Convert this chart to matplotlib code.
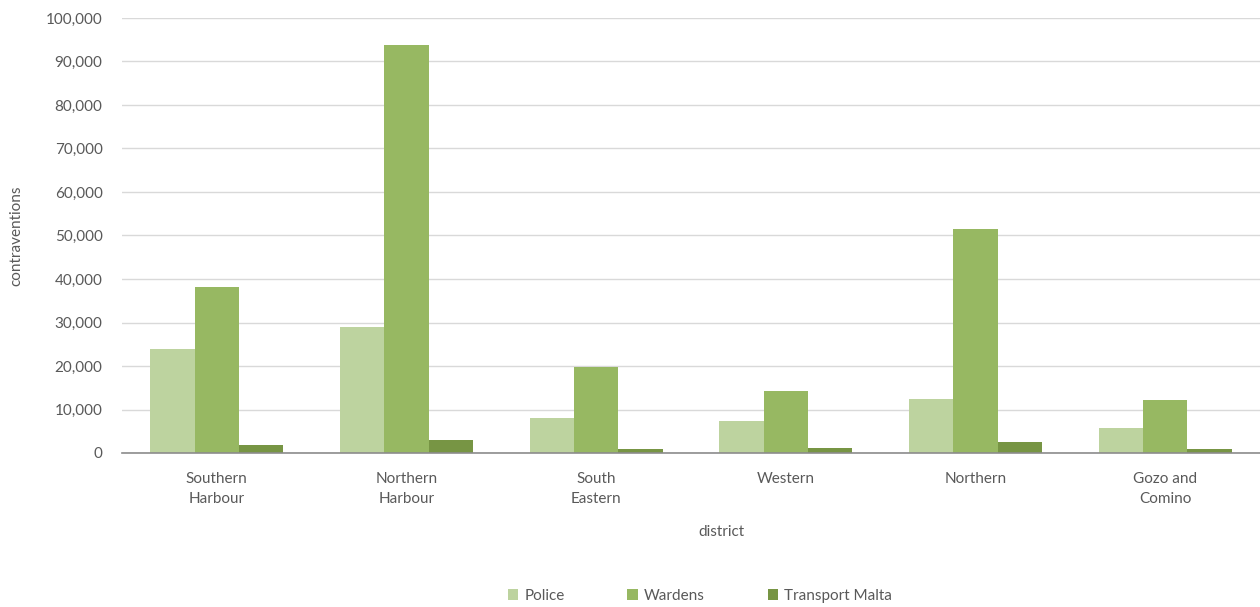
import matplotlib.pyplot as plt
import numpy as np
from matplotlib.ticker import FuncFormatter

# ── Data ──────────────────────────────────────────────────────────────────
districts = ["Southern\nHarbour", "Northern\nHarbour", "South\nEastern",
             "Western", "Northern", "Gozo and\nComino"]
police = [24000, 29000, 8000, 7400, 12400, 5700]
wardens = [38200, 93800, 19800, 14300, 51500, 12250]
transport_malta = [1800, 3000, 900, 1150, 2450, 1000]

# Colours
POLICE = "#BDD39F"
WARDENS = "#97B862"
TM = "#779544"
GRID = "#D9D9D9"
AXIS = "#8C8C8C"
FG = "#595959"

plt.rcParams['font.family'] = ['Lato', 'DejaVu Sans']

fig = plt.figure(figsize=(12.6, 6.07), dpi=100, facecolor="white")
ax = fig.add_axes([122 / 1260, 1 - 453 / 607, 1 - 122 / 1260, (453 - 18) / 607])

x = np.arange(len(districts))
w = 0.7 / 3
ax.bar(x - w, police, width=w, color=POLICE, label="Police", zorder=3)
ax.bar(x, wardens, width=w, color=WARDENS, label="Wardens", zorder=3)
ax.bar(x + w, transport_malta, width=w, color=TM, label="Transport Malta", zorder=3)

ax.set_xlim(-0.5, len(districts) - 0.5)
ax.set_ylim(0, 100000)
ax.set_yticks(np.arange(0, 100001, 10000))
ax.yaxis.set_major_formatter(FuncFormatter(lambda v, p: f"{v:,.0f}"))
ax.set_xticks(x)
ax.set_xticklabels(districts, fontsize=11, color=FG, linespacing=1.55)
ax.tick_params(axis='y', labelsize=11, labelcolor=FG, length=0, pad=14)
ax.tick_params(axis='x', length=0, pad=14)

ax.grid(axis='y', color=GRID, linewidth=1, zorder=0)
ax.set_axisbelow(True)
for s in ["top", "right", "left"]:
    ax.spines[s].set_visible(False)
ax.spines["bottom"].set_color(AXIS)
ax.spines["bottom"].set_linewidth(1.2)
ax.spines["bottom"].set_zorder(4)

ax.set_ylabel("contraventions", fontsize=11, color=FG)
ax.yaxis.set_label_coords(-0.087, 0.5)
ax.set_xlabel("district", fontsize=11, color=FG)
ax.xaxis.set_label_coords(0.527, -0.166)

fig.legend(loc="center", bbox_to_anchor=(700 / 1260, 1 - 596 / 607), ncol=3,
           frameon=False, fontsize=11, labelcolor=FG, handlelength=0.7,
           handleheight=0.7, handletextpad=0.4, columnspacing=4.1)

fig.savefig("out.png", dpi=100, facecolor="white")
